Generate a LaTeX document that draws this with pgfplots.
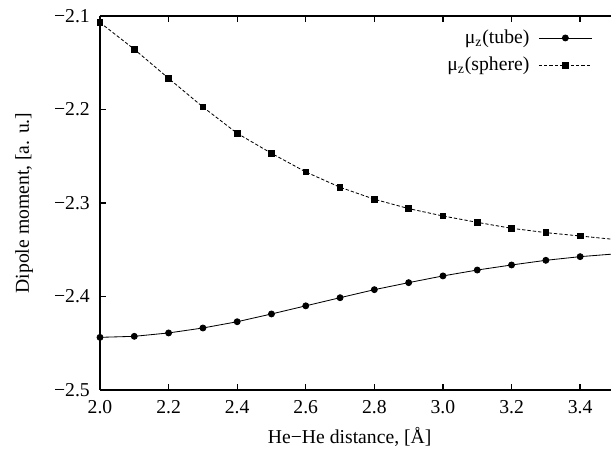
\documentclass[border=0pt]{standalone}
\usepackage{fontspec}
\setmainfont{Liberation Serif}
\usepackage{pgfplots}
\pgfplotsset{compat=1.18}
\usetikzlibrary{calc}

\begin{document}
\fontsize{11.8}{14}\selectfont
\begin{tikzpicture}
\begin{axis}[
    scale only axis,
    width=306.6pt,
    height=224.4pt,
    xmin=2.0, xmax=3.49,
    ymin=-2.5, ymax=-2.1,
    axis x line=box,
    axis y line=left,
    axis line style={-, line width=0.9pt},
    tick align=inside,
    major tick length=3.8pt,
    tick style={line width=0.8pt, black},
    xtick={2.0,2.2,2.4,2.6,2.8,3.0,3.2,3.4},
    xticklabels={2.0,2.2,2.4,2.6,2.8,3.0,3.2,3.4},
    ytick={-2.5,-2.4,-2.3,-2.2,-2.1},
    yticklabels={−2.5,−2.4,−2.3,−2.2,−2.1},
    yticklabel style={xshift=-2pt},
    xticklabel style={yshift=-2pt},
    xlabel={He−He distance, [Å]},
    xlabel style={xshift=-3.5pt, yshift=-0.5pt},
    ylabel={Dipole moment, [a. u.]},
    ylabel style={yshift=4.5pt},
    legend cell align=right,
    legend plot pos=right,
    legend style={at={(1,1)}, anchor=north east, xshift=-11pt, yshift=-6pt,
        draw=none, fill=none, inner sep=0pt, row sep=2.5pt},
    legend image code/.code={
        \path (-0.12cm,0cm);
        \draw[mark repeat=2, mark phase=2, #1]
            plot coordinates {(0cm,0cm) (0.56cm,0cm) (1.12cm,0cm)};},
]
\addplot[black, line width=0.5pt, mark=*, mark size=1.8pt, mark options={solid}] coordinates {
    (2.0,-2.4437) (2.1,-2.4426) (2.2,-2.4390) (2.3,-2.4337) (2.4,-2.4270)
    (2.5,-2.4187) (2.6,-2.4100) (2.7,-2.4013) (2.8,-2.3927) (2.9,-2.3852)
    (3.0,-2.3780) (3.1,-2.3717) (3.2,-2.3663) (3.3,-2.3613) (3.4,-2.3574)
    (3.5,-2.3545)
};
\addplot[black, line width=0.5pt, dash pattern=on 2pt off 1.2pt, mark=square*, mark size=1.7pt, mark options={solid}] coordinates {
    (2.0,-2.1070) (2.1,-2.1356) (2.2,-2.1667) (2.3,-2.1973) (2.4,-2.2255)
    (2.5,-2.2469) (2.6,-2.2668) (2.7,-2.2832) (2.8,-2.2960) (2.9,-2.3060)
    (3.0,-2.3139) (3.1,-2.3207) (3.2,-2.3271) (3.3,-2.3317) (3.4,-2.3353)
    (3.5,-2.3390)
};
\legend{μ\textsubscript{z}(tube), μ\textsubscript{z}(sphere)}
\end{axis}
\pgfresetboundingbox
\path ($(current axis.south west)+(-60pt,-36.6pt)$) rectangle ($(current axis.north east)+(0pt,9.6pt)$);
\end{tikzpicture}
\end{document}
